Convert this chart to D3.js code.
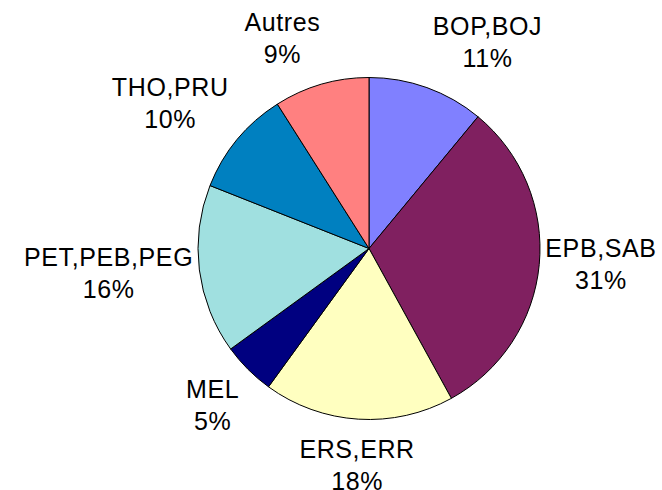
<!DOCTYPE html>
<html><head><meta charset="utf-8">
<script src="https://cdn.jsdelivr.net/npm/d3@7"></script>
<style>html,body{margin:0;padding:0;background:#fff;}</style>
</head><body>
<svg id="chart" width="662" height="490"></svg>
<script>
const categories = ["BOP,BOJ", "EPB,SAB", "ERS,ERR", "MEL", "PET,PEB,PEG", "THO,PRU", "Autres"];
const values = [11, 31, 18, 5, 16, 10, 9];
const percentLabels = ["11%", "31%", "18%", "5%", "16%", "10%", "9%"];
const colors = ["#8080FF", "#802060", "#FFFFC0", "#000080", "#A0E0E0", "#0080C0", "#FF8080"];

const svg = d3.select("#chart");
const cx = 369, cy = 248.5, R = 171;
const fontSize = 25, lineGap = 32, capH = 18;

const pie = d3.pie().value(d => d).sort(null);
const arc = d3.arc().innerRadius(0).outerRadius(R);
const arcs = pie(values);

const g = svg.append("g").attr("transform", `translate(${cx},${cy})`);
g.selectAll("path.slice").data(arcs).enter().append("path")
  .attr("class", "slice")
  .attr("d", arc)
  .attr("fill", (d, i) => colors[i])
  .attr("stroke", "#000")
  .attr("stroke-width", 1);

// labels: placed outside, the box edge/corner facing the pie touching the mid-angle ray
const f = v => Math.sign(v) * Math.max(0, Math.min(1, (Math.abs(v) - 0.1) / 0.2));
const labels = g.selectAll("g.lab").data(arcs).enter().append("g").attr("class", "lab");
labels.each(function(d, i) {
  const gl = d3.select(this);
  const t1 = gl.append("text").text(categories[i]);
  const t2 = gl.append("text").text(percentLabels[i]);
  [t1, t2].forEach(t => t.attr("font-family", "Liberation Sans, Arial, sans-serif")
    .attr("font-size", fontSize).attr("letter-spacing", "0.6px")
    .attr("fill", "#000").attr("text-anchor", "middle"));
  const w = Math.max(t1.node().getComputedTextLength(), t2.node().getComputedTextLength());
  const h = lineGap + capH + 6;
  const a = (d.startAngle + d.endAngle) / 2;
  const s = Math.sin(a), c = Math.cos(a);
  const dist = R + 6 + 13 * c * c;
  const bx = dist * s + f(s) * w / 2;
  const by = -dist * c - f(c) * h / 2;
  const base1 = by - h / 2 + capH + 2;
  t1.attr("x", bx).attr("y", base1);
  t2.attr("x", bx).attr("y", base1 + lineGap);
});
</script>
</body></html>
